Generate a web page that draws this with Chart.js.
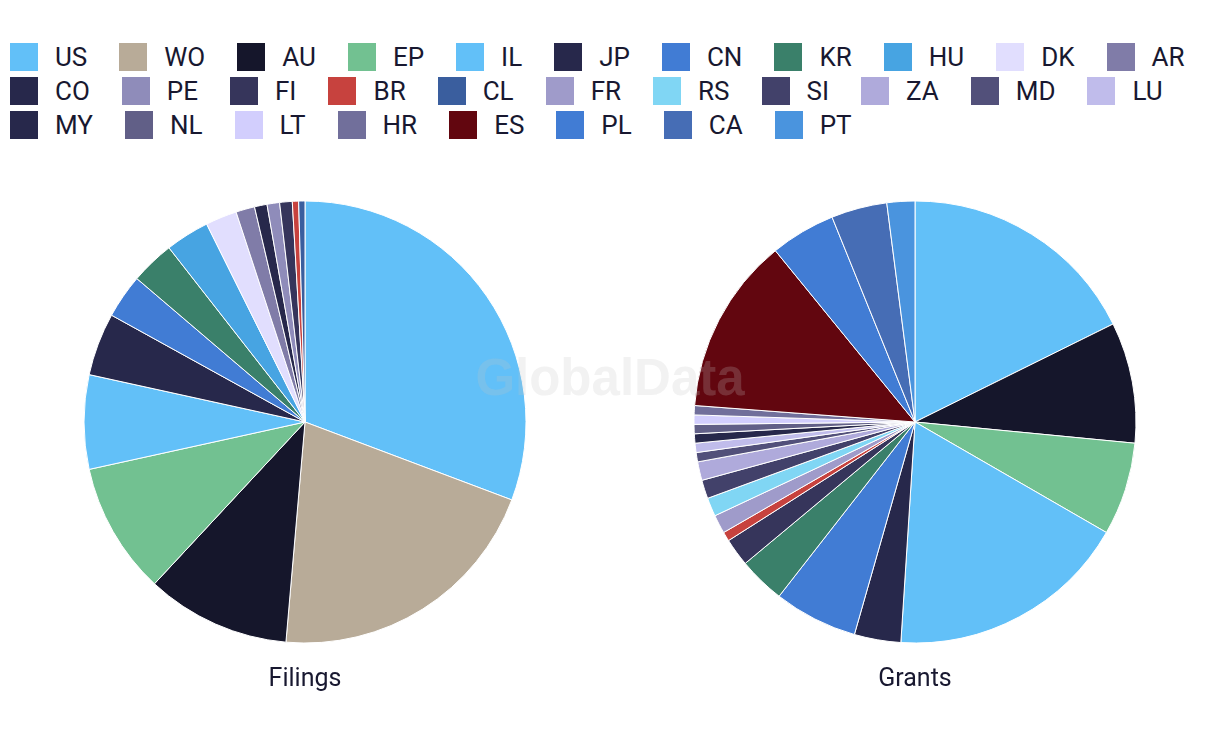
<!DOCTYPE html>
<html>
<head>
<meta charset="utf-8">
<script src="https://cdn.jsdelivr.net/npm/chart.js@4"></script>
<style>
  body { margin: 0; background: #fff; width: 1220px; height: 754px; position: relative; overflow: hidden; font-family: Roboto, sans-serif; }
  #legend { position: absolute; left: 10px; top: 43px; width: 1400px; display: flex; flex-wrap: wrap; }
  .item { display: flex; align-items: center; height: 28px; margin: 0 32px 6px 0; font-size: 26px; color: #181830; white-space: nowrap; }
  .box { width: 28px; height: 28px; margin-right: 17px; }
  .brk { flex-basis: 100%; height: 0; }
  .pie { position: absolute; top: 192px; width: 610px; height: 510px; }
  #watermark { position: absolute; left: 0; width: 1220px; top: 348px; text-align: center; font: bold 51px "Liberation Sans", Arial, sans-serif; color: rgba(195, 195, 195, 0.22); pointer-events: none; z-index: 5; }
</style>
</head>
<body>
<div id="legend"></div>
<div class="pie" style="left:0"><canvas id="chart_filings"></canvas></div>
<div class="pie" style="left:610px"><canvas id="chart_grants"></canvas></div>
<div id="watermark">GlobalData</div>
<script>
const countries = ["US", "WO", "AU", "EP", "IL", "JP", "CN", "KR", "HU", "DK", "AR",
  "CO", "PE", "FI", "BR", "CL", "FR", "RS", "SI", "ZA", "MD", "LU",
  "MY", "NL", "LT", "HR", "ES", "PL", "CA", "PT"];

const colors = ["#62c0f8", "#b8ab98", "#15162b", "#72c191", "#62c0f8", "#27284b", "#417cd4", "#3a806a", "#47a4e2", "#e1defe", "#807ca8",
  "#27284b", "#8f8cba", "#36355b", "#c7423e", "#3a5e9e", "#9f9bca", "#80d6f4", "#42416a", "#afaadb", "#52507a", "#c0bceb",
  "#27284b", "#615f87", "#d2cefd", "#716f9b", "#62060f", "#417cd4", "#466db5", "#4a94de"];

// counts per country, same order as countries
const filings = [67, 45, 23, 21, 15, 10, 7, 7, 7, 5, 3,
  2, 2, 2, 1, 1, 0, 0, 0, 0, 0, 0,
  0, 0, 0, 0, 0, 0, 0, 0];

const grants = [26, 0, 13, 10, 26, 5, 9, 5, 0, 0, 0,
  0, 0, 3, 1, 0, 2, 2, 2, 2, 1, 1,
  1, 1, 1, 1, 19, 7, 6, 3];

const rowBreaks = [11, 22]; // legend wraps after these items

function buildLegend() {
  const legend = document.getElementById("legend");
  countries.forEach(function (code, i) {
    if (rowBreaks.includes(i)) {
      const brk = document.createElement("div");
      brk.className = "brk";
      legend.appendChild(brk);
    }
    const item = document.createElement("div");
    item.className = "item";
    const box = document.createElement("span");
    box.className = "box";
    box.style.background = colors[i];
    item.appendChild(box);
    item.appendChild(document.createTextNode(code));
    legend.appendChild(item);
  });
}

function createPie(chart_id, title, values) {
  const ctx = document.getElementById(chart_id).getContext("2d");
  return new Chart(ctx, {
    type: "pie",
    data: {
      labels: countries,
      datasets: [
        {
          data: values,
          backgroundColor: colors,
          borderColor: "#ffffff",
          borderWidth: 1,
          radius: 221,
        },
      ],
    },
    options: {
      responsive: true,
      maintainAspectRatio: false,
      animation: false,
      layout: { padding: { top: 0, bottom: 0 } },
      plugins: {
        legend: { display: false },
        tooltip: { enabled: false },
        title: {
          display: true,
          text: title,
          position: "bottom",
          color: "#181830",
          padding: { top: 13, bottom: 7 },
          font: { family: "Roboto", size: 25, weight: "normal", lineHeight: 1.2 },
        },
      },
    },
  });
}

document.addEventListener("DOMContentLoaded", function () {
  buildLegend();
  createPie("chart_filings", "Filings", filings);
  createPie("chart_grants", "Grants", grants);
});
</script>
</body>
</html>
